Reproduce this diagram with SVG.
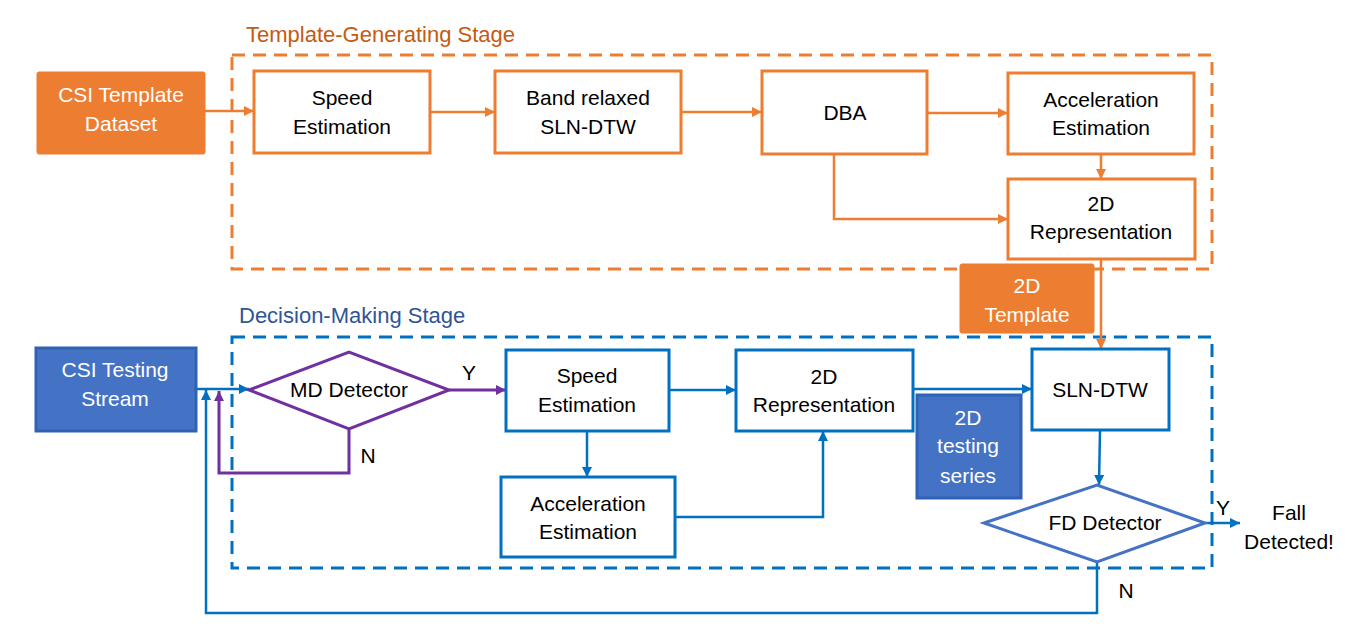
<svg xmlns="http://www.w3.org/2000/svg" width="1355" height="641" viewBox="0 0 1355 641">
<style>
text{font-family:"Liberation Sans",Arial,sans-serif;font-size:21px;text-anchor:middle;fill:#000}
.w{fill:#fff}
.title{text-anchor:start;font-size:22px}
.ob{fill:#fff;stroke:#ED7D31;stroke-width:3}
.of{fill:#ED7D31;stroke:#ED7D31;stroke-width:1}
.bb{fill:#fff;stroke:#0070C0;stroke-width:3}
.bf{fill:#4472C4;stroke:#2E62B5;stroke-width:3}
.oc{fill:none;stroke:#ED7D31;stroke-width:2.5}
.bc{fill:none;stroke:#0070C0;stroke-width:2.5}
.pc{fill:none;stroke:#7030A0;stroke-width:3}
</style>
<defs>
<marker id="ao" markerUnits="userSpaceOnUse" markerWidth="12" markerHeight="12" refX="10" refY="5" orient="auto"><path d="M0,0 L10,5 L0,10 z" fill="#ED7D31"/></marker>
<marker id="ab" markerUnits="userSpaceOnUse" markerWidth="12" markerHeight="12" refX="10" refY="5" orient="auto"><path d="M0,0 L10,5 L0,10 z" fill="#0070C0"/></marker>
<marker id="ap" markerUnits="userSpaceOnUse" markerWidth="12" markerHeight="12" refX="10" refY="5" orient="auto"><path d="M0,0 L10,5 L0,10 z" fill="#7030A0"/></marker>
</defs>

<g id="stage-template">
<rect x="232" y="55" width="980" height="214" fill="none" stroke="#ED7D31" stroke-width="3" stroke-dasharray="13 8"/>
<text class="title" x="246" y="42" style="fill:#C55A11">Template-Generating Stage</text>
</g>
<g id="stage-decision">
<rect x="232" y="337" width="980" height="231" fill="none" stroke="#0070C0" stroke-width="3" stroke-dasharray="13 8"/>
<text class="title" x="239" y="323" style="fill:#2F5597">Decision-Making Stage</text>
</g>

<g id="connectors">
<line class="oc" x1="205" y1="111" x2="254" y2="111" marker-end="url(#ao)"/>
<line class="oc" x1="430" y1="112" x2="495" y2="112" marker-end="url(#ao)"/>
<line class="oc" x1="681" y1="112" x2="762" y2="112" marker-end="url(#ao)"/>
<line class="oc" x1="927" y1="113" x2="1008" y2="113" marker-end="url(#ao)"/>
<line class="oc" x1="1101" y1="154" x2="1101" y2="179" marker-end="url(#ao)"/>
<polyline class="oc" points="834,154 834,219 1008,219" marker-end="url(#ao)"/>
<line class="oc" x1="1101" y1="259" x2="1101" y2="349" marker-end="url(#ao)"/>

<line class="bc" x1="196" y1="389" x2="249" y2="389" marker-end="url(#ab)"/>
<polyline class="pc" points="349,429 349,473 219,473 219,391" marker-end="url(#ap)"/>
<line class="pc" x1="449" y1="390" x2="506" y2="390" marker-end="url(#ap)"/>
<line class="bc" x1="669" y1="390" x2="736" y2="390" marker-end="url(#ab)"/>
<line class="bc" x1="587" y1="431" x2="587" y2="477" marker-end="url(#ab)"/>
<polyline class="bc" points="675,517 823,517 823,431" marker-end="url(#ab)"/>
<line class="bc" x1="913" y1="389" x2="1032" y2="389" marker-end="url(#ab)"/>
<line class="bc" x1="1100" y1="430" x2="1099" y2="485" marker-end="url(#ab)"/>
<line class="bc" x1="1205" y1="523" x2="1240" y2="523" marker-end="url(#ab)"/>
<polyline class="bc" points="1097,562 1097,613 206,613 206,390" marker-end="url(#ab)"/>
</g>

<g id="csi-template"><rect class="of" x="37" y="72" width="168" height="82" rx="2"/><text class="w" x="121" y="102">CSI Template</text><text class="w" x="121" y="131">Dataset</text></g>
<g id="speed1"><rect class="ob" x="254" y="71" width="176" height="82"/><text x="342" y="105">Speed</text><text x="342" y="134">Estimation</text></g>
<g id="band"><rect class="ob" x="495" y="71" width="186" height="82"/><text x="588" y="105">Band relaxed</text><text x="588" y="134">SLN-DTW</text></g>
<g id="dba"><rect class="ob" x="762" y="71" width="165" height="83"/><text x="845" y="120">DBA</text></g>
<g id="accel1"><rect class="ob" x="1008" y="73" width="186" height="81"/><text x="1101" y="107">Acceleration</text><text x="1101" y="135">Estimation</text></g>
<g id="rep1"><rect class="ob" x="1008" y="179" width="187" height="80"/><text x="1101" y="211">2D</text><text x="1101" y="239">Representation</text></g>
<g id="template2d"><rect class="of" x="960" y="264" width="134" height="69" rx="2"/><text class="w" x="1027" y="293">2D</text><text class="w" x="1027" y="322">Template</text></g>

<g id="csi-testing"><rect class="bf" x="36" y="348" width="160" height="83"/><text class="w" x="115" y="377">CSI Testing</text><text class="w" x="115" y="406">Stream</text></g>
<g id="md"><polygon points="249,390 349,352 449,390 349,429" fill="#fff" stroke="#7030A0" stroke-width="3"/><text x="349" y="397">MD Detector</text></g>
<text x="469" y="380">Y</text>
<text x="368" y="463">N</text>
<g id="speed2"><rect class="bb" x="506" y="350" width="163" height="81"/><text x="587" y="383">Speed</text><text x="587" y="412">Estimation</text></g>
<g id="accel2"><rect class="bb" x="501" y="477" width="174" height="80"/><text x="588" y="511">Acceleration</text><text x="588" y="539">Estimation</text></g>
<g id="rep2"><rect class="bb" x="736" y="350" width="177" height="81"/><text x="824" y="384">2D</text><text x="824" y="412">Representation</text></g>
<g id="testing2d"><rect class="bf" x="917" y="395" width="104" height="103"/><text class="w" x="968" y="425">2D</text><text class="w" x="968" y="453">testing</text><text class="w" x="968" y="483">series</text></g>
<g id="slndtw"><rect class="bb" x="1032" y="349" width="137" height="81"/><text x="1100" y="397">SLN-DTW</text></g>
<g id="fd"><polygon points="984,523 1097,485 1205,523 1097,562" fill="#fff" stroke="#4472C4" stroke-width="3"/><text x="1105" y="530">FD Detector</text></g>
<text x="1223" y="515">Y</text>
<text x="1126" y="598">N</text>
<g id="fall"><text x="1289" y="520">Fall</text><text x="1289" y="549">Detected!</text></g>
</svg>
